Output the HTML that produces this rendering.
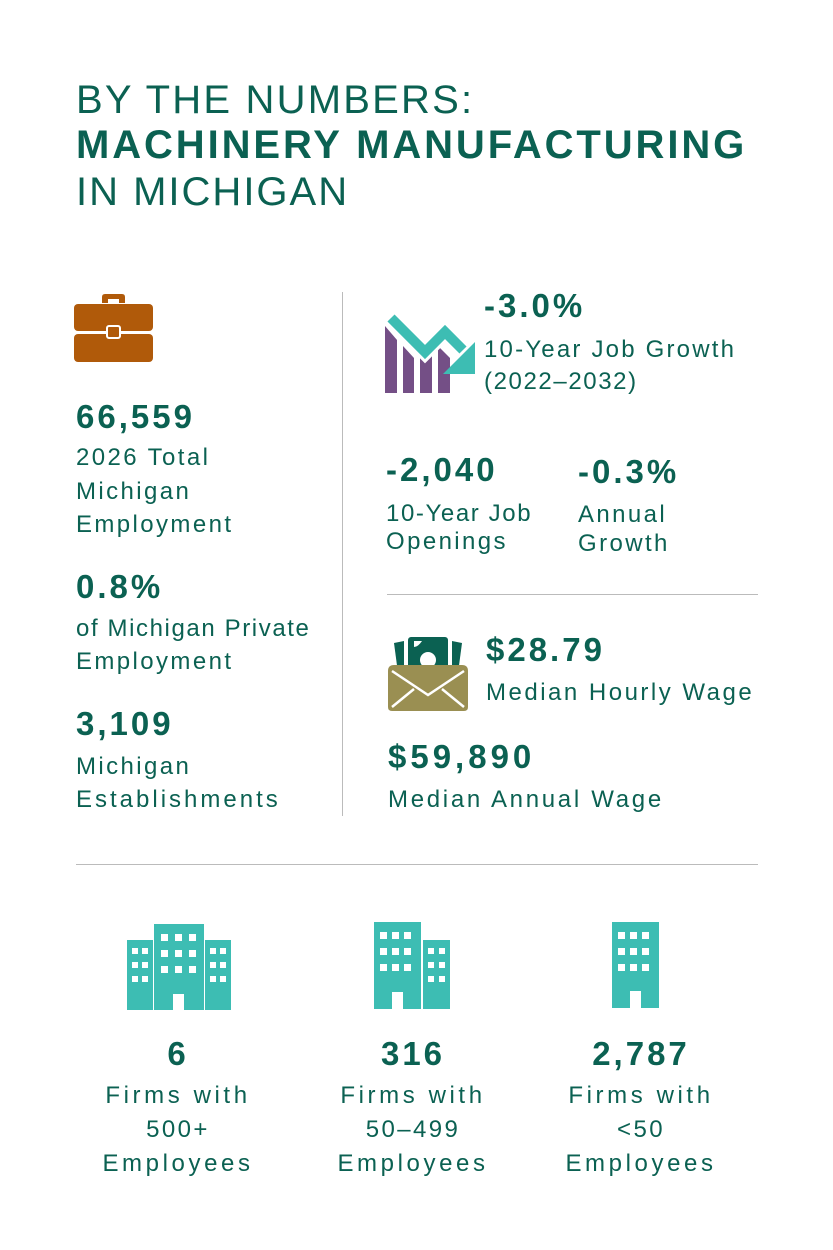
<!DOCTYPE html>
<html><head><meta charset="utf-8">
<style>
body{margin:0;background:#fff;}
#page{position:relative;width:833px;height:1250px;overflow:hidden;font-family:"Liberation Sans",sans-serif;color:#0b6152;}
.t{position:absolute;line-height:1;white-space:nowrap;}
.title{font-size:40px;letter-spacing:2px;}
.num{font-size:33px;font-weight:bold;letter-spacing:3px;}
.lab{font-size:24px;letter-spacing:2.4px;}
.c{text-align:center;width:260px;margin-left:-130px;}
svg{position:absolute;}
.rule{position:absolute;background:#bbbbbb;}
</style></head><body>
<div id="page">
<div class="t title" style="left:76px;top:80px;letter-spacing:2.2px">BY THE NUMBERS:</div>
<div class="t title" style="left:76px;top:125px;font-weight:bold;letter-spacing:2.9px">MACHINERY MANUFACTURING</div>
<div class="t title" style="left:76px;top:172px">IN MICHIGAN</div>

<div class="rule" style="left:342px;top:292px;width:1px;height:524px"></div>
<div class="rule" style="left:387px;top:594px;width:371px;height:1px"></div>
<div class="rule" style="left:76px;top:864px;width:682px;height:1px"></div>

<svg style="left:74px;top:293px" width="79" height="70">
<path d="M28 10 V4 Q28 1 31 1 H48 Q51 1 51 4 V10 H45 V6 H34 V10Z" fill="#b05a0a"/>
<rect x="0" y="11" width="79" height="27" rx="4" fill="#b05a0a"/>
<rect x="0" y="41" width="79" height="28" rx="4" fill="#b05a0a"/>
<rect x="33" y="33" width="13" height="12" rx="2" fill="#b05a0a" stroke="#fff" stroke-width="2"/>
</svg>

<div class="t num" style="left:76px;top:400px">66,559</div>
<div class="t lab" style="left:76px;top:446px">2026 Total</div>
<div class="t lab" style="left:76px;top:480px">Michigan</div>
<div class="t lab" style="left:76px;top:513px">Employment</div>
<div class="t num" style="left:76px;top:570px">0.8%</div>
<div class="t lab" style="left:76px;top:617px;letter-spacing:1.6px">of Michigan Private</div>
<div class="t lab" style="left:76px;top:650px">Employment</div>
<div class="t num" style="left:76px;top:707px">3,109</div>
<div class="t lab" style="left:76px;top:755px">Michigan</div>
<div class="t lab" style="left:76px;top:788px;letter-spacing:3px">Establishments</div>

<svg style="left:385px;top:312px" width="92" height="84">
<polygon points="0,14 12,28 12,81 0,81" fill="#744f86"/>
<polygon points="18,34 29,46 29,81 18,81" fill="#744f86"/>
<polygon points="35,46 47,34 47,81 35,81" fill="#744f86"/>
<polygon points="53,34 65,46 65,81 53,81" fill="#744f86"/>
<polyline points="6,6 40,40 60,20 80,40" fill="none" stroke="#fff" stroke-width="16" stroke-linejoin="miter"/>
<polyline points="6,6 40,40 60,20 78,38" fill="none" stroke="#3dbdb3" stroke-width="10" stroke-linejoin="miter"/>
<polygon points="90,30 90,62 58,62" fill="#3dbdb3"/>
</svg>
<div class="t num" style="left:484px;top:289px">-3.0%</div>
<div class="t lab" style="left:484px;top:338px;letter-spacing:2.2px">10-Year Job Growth</div>
<div class="t lab" style="left:484px;top:370px;letter-spacing:1.6px">(2022–2032)</div>

<div class="t num" style="left:386px;top:453px">-2,040</div>
<div class="t lab" style="left:386px;top:502px;letter-spacing:1.6px">10-Year Job</div>
<div class="t lab" style="left:386px;top:530px">Openings</div>
<div class="t num" style="left:578px;top:455px">-0.3%</div>
<div class="t lab" style="left:578px;top:503px">Annual</div>
<div class="t lab" style="left:578px;top:532px">Growth</div>

<svg style="left:388px;top:633px" width="80" height="80">
<path d="M6 10 L16 8 L16 40 L10 40Z" fill="#0b6152"/>
<path d="M74 10 L64 8 L64 40 L70 40Z" fill="#0b6152"/>
<rect x="20" y="4" width="40" height="42" rx="3" fill="#0b6152"/>
<circle cx="40" cy="27" r="8" fill="#fff"/>
<path d="M26 8 H34 Q30 14 26 14Z" fill="#fff"/>
<path d="M0 38 Q0 32 6 32 H74 Q80 32 80 38 V74 Q80 78 76 78 H4 Q0 78 0 74Z" fill="#9a8f52"/>
<polyline points="4,38 40,62 76,38" fill="none" stroke="#fff" stroke-width="2.5"/>
<line x1="4" y1="74" x2="26" y2="56" stroke="#fff" stroke-width="2.5"/>
<line x1="76" y1="74" x2="54" y2="56" stroke="#fff" stroke-width="2.5"/>
</svg>
<div class="t num" style="left:486px;top:633px">$28.79</div>
<div class="t lab" style="left:486px;top:681px;letter-spacing:2.5px">Median Hourly Wage</div>
<div class="t num" style="left:388px;top:740px;letter-spacing:4px">$59,890</div>
<div class="t lab" style="left:388px;top:788px;letter-spacing:2.7px">Median Annual Wage</div>

<svg style="left:127px;top:924px" width="105" height="86">
<rect x="0" y="16" width="26" height="70" fill="#3dbdb3"/>
<rect x="27" y="0" width="50" height="86" fill="#3dbdb3"/>
<rect x="78" y="16" width="26" height="70" fill="#3dbdb3"/>
<g fill="#fff">
<rect x="5" y="24" width="6" height="6"/><rect x="15" y="24" width="6" height="6"/>
<rect x="5" y="38" width="6" height="6"/><rect x="15" y="38" width="6" height="6"/>
<rect x="5" y="52" width="6" height="6"/><rect x="15" y="52" width="6" height="6"/>
<rect x="83" y="24" width="6" height="6"/><rect x="93" y="24" width="6" height="6"/>
<rect x="83" y="38" width="6" height="6"/><rect x="93" y="38" width="6" height="6"/>
<rect x="83" y="52" width="6" height="6"/><rect x="93" y="52" width="6" height="6"/>
<rect x="34" y="10" width="7" height="7"/><rect x="48" y="10" width="7" height="7"/><rect x="62" y="10" width="7" height="7"/>
<rect x="34" y="26" width="7" height="7"/><rect x="48" y="26" width="7" height="7"/><rect x="62" y="26" width="7" height="7"/>
<rect x="34" y="42" width="7" height="7"/><rect x="48" y="42" width="7" height="7"/><rect x="62" y="42" width="7" height="7"/>
<rect x="46" y="70" width="11" height="16"/>
</g></svg>
<svg style="left:374px;top:922px" width="76" height="87">
<rect x="0" y="0" width="47" height="87" fill="#3dbdb3"/>
<rect x="49" y="18" width="27" height="69" fill="#3dbdb3"/>
<g fill="#fff">
<rect x="6" y="10" width="7" height="7"/><rect x="18" y="10" width="7" height="7"/><rect x="30" y="10" width="7" height="7"/>
<rect x="6" y="26" width="7" height="7"/><rect x="18" y="26" width="7" height="7"/><rect x="30" y="26" width="7" height="7"/>
<rect x="6" y="42" width="7" height="7"/><rect x="18" y="42" width="7" height="7"/><rect x="30" y="42" width="7" height="7"/>
<rect x="54" y="26" width="6" height="6"/><rect x="65" y="26" width="6" height="6"/>
<rect x="54" y="40" width="6" height="6"/><rect x="65" y="40" width="6" height="6"/>
<rect x="54" y="54" width="6" height="6"/><rect x="65" y="54" width="6" height="6"/>
<rect x="18" y="70" width="11" height="17"/>
</g></svg>
<svg style="left:612px;top:922px" width="47" height="86">
<rect x="0" y="0" width="47" height="86" fill="#3dbdb3"/>
<g fill="#fff">
<rect x="6" y="10" width="7" height="7"/><rect x="18" y="10" width="7" height="7"/><rect x="30" y="10" width="7" height="7"/>
<rect x="6" y="26" width="7" height="7"/><rect x="18" y="26" width="7" height="7"/><rect x="30" y="26" width="7" height="7"/>
<rect x="6" y="42" width="7" height="7"/><rect x="18" y="42" width="7" height="7"/><rect x="30" y="42" width="7" height="7"/>
<rect x="18" y="69" width="11" height="17"/>
</g></svg>

<div class="t num c" style="left:178px;top:1037px">6</div>
<div class="t lab c" style="left:178px;top:1084px;letter-spacing:3.6px">Firms with</div>
<div class="t lab c" style="left:178px;top:1118px">500+</div>
<div class="t lab c" style="left:178px;top:1152px;letter-spacing:3.6px">Employees</div>
<div class="t num c" style="left:413px;top:1037px">316</div>
<div class="t lab c" style="left:413px;top:1084px;letter-spacing:3.6px">Firms with</div>
<div class="t lab c" style="left:413px;top:1118px">50–499</div>
<div class="t lab c" style="left:413px;top:1152px;letter-spacing:3.6px">Employees</div>
<div class="t num c" style="left:641px;top:1037px">2,787</div>
<div class="t lab c" style="left:641px;top:1084px;letter-spacing:3.6px">Firms with</div>
<div class="t lab c" style="left:641px;top:1118px">&lt;50</div>
<div class="t lab c" style="left:641px;top:1152px;letter-spacing:3.6px">Employees</div>
</div>
</body></html>
